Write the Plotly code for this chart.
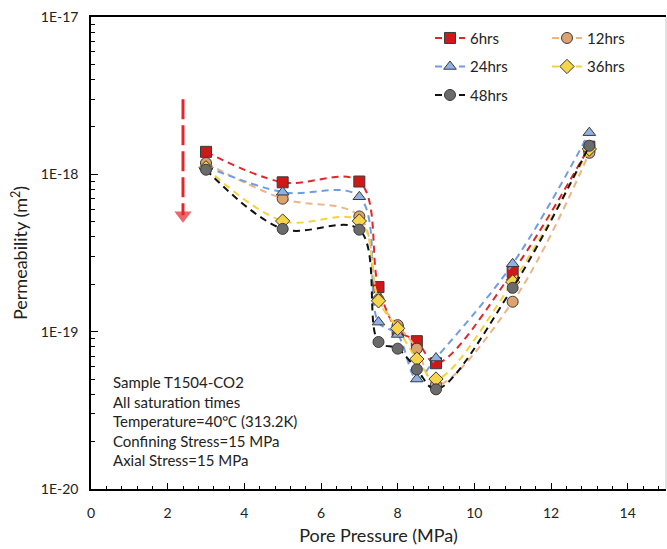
import plotly.graph_objects as go

pressure = [3, 5, 7, 7.5, 8, 8.5, 9, 11, 13]
k_6hrs = [1.39e-18, 8.9e-19, 9.0e-19, 1.92e-19, 1.02e-19, 8.7e-20, 6.3e-20, 2.4e-19, 1.5e-18]
k_12hrs = [1.18e-18, 7.0e-19, 5.4e-19, 1.6e-19, 1.1e-19, 7.8e-20, 4.6e-20, 1.55e-19, 1.37e-18]
k_24hrs = [1.12e-18, 7.7e-19, 7.2e-19, 1.15e-19, 9.6e-20, 5.0e-20, 6.8e-20, 2.7e-19, 1.84e-18]
k_36hrs = [1.1e-18, 5.05e-19, 5.05e-19, 1.57e-19, 1.05e-19, 6.7e-20, 5.0e-20, 2.07e-19, 1.45e-18]
k_48hrs = [1.07e-18, 4.5e-19, 4.45e-19, 8.6e-20, 7.8e-20, 5.76e-20, 4.3e-20, 1.9e-19, 1.52e-18]

y_tickvals = [1e-20, 1e-19, 1e-18, 1e-17]
y_ticktext = ["1E-20", "1E-19", "1E-18", "1E-17"]
x_tickvals = [0, 2, 4, 6, 8, 10, 12, 14]

# decorative arrow: pressure position and permeability start/end
arrow_px = [2.4, 2.4]
arrow_k = [3.0e-18, 5.5e-19]

info_lines = ["Sample T1504-CO2", "All saturation times", "Temperature=40℃ (313.2K)",
              "Confining Stress=15 MPa", "Axial Stress=15 MPa"]

FONT = "Lato"

series = [
    ("6hrs", k_6hrs, "#E3262B", "square", "#D01818", "legend"),
    ("12hrs", k_12hrs, "#EDB488", "circle", "#DDA26E", "legend2"),
    ("24hrs", k_24hrs, "#6F9DE3", "triangle-up", "#8FB0E3", "legend"),
    ("36hrs", k_36hrs, "#F5D33A", "diamond", "#F6D54A", "legend2"),
    ("48hrs", k_48hrs, "#111111", "circle", "#6B6B6B", "legend"),
]

fig = go.Figure()

# red dashed arrow
fig.add_trace(go.Scatter(
    x=arrow_px, y=arrow_k, mode="lines+markers", showlegend=False, hoverinfo="skip",
    line=dict(color="#E3262B", width=3, dash="20px,6px"),
    marker=dict(symbol="triangle-down", size=[0, 15], color="#E3262B", line=dict(width=0)),
))

for name, vals, lcol, sym, mcol, leg in series:
    fig.add_trace(go.Scatter(
        x=pressure, y=vals, name=name, mode="lines+markers",
        line=dict(color=lcol, width=2, dash="7px,5px", shape="spline", smoothing=1),
        marker=dict(symbol=sym, size=11, color=mcol,
                    line=dict(color="#3a3a3a", width=1)),
        legend=leg, legendgroup=name,
    ))

fig.add_annotation(xref="paper", yref="paper", x=(111 - 91) / 575, y=(489 - 371) / 471.5,
                   xanchor="left", yanchor="top", align="left", showarrow=False,
                   text="<br>".join(info_lines),
                   font=dict(family=FONT, size=15, color="#222222"))

# light frame on the right
fig.add_shape(type="line", xref="paper", yref="paper", x0=1, x1=1, y0=0, y1=1,
              line=dict(color="#c8c8c8", width=1))

axis_font = dict(family=FONT, size=14, color="#222222")
fig.update_layout(
    width=667, height=549,
    margin=dict(l=91, r=1, t=17, b=60),
    paper_bgcolor="white", plot_bgcolor="white",
    font=dict(family=FONT, size=14, color="#222222"),
    legend=dict(x=(430 - 91) / 575, y=0.99, xanchor="left", yanchor="top",
                bgcolor="rgba(0,0,0,0)", tracegroupgap=6, font=dict(family=FONT, size=15),
                itemwidth=30),
    legend2=dict(x=(547 - 91) / 575, y=0.99, xanchor="left", yanchor="top",
                 bgcolor="rgba(0,0,0,0)", tracegroupgap=6, font=dict(family=FONT, size=15),
                 itemwidth=30),
    xaxis=dict(range=[0, 15], tickvals=x_tickvals, ticks="inside", ticklen=6,
               tickwidth=1.2, tickcolor="black", showline=True, linecolor="black",
               linewidth=1.5, mirror=True, showgrid=False, zeroline=False,
               tickfont=axis_font, ticklabelstandoff=10,
               minor=dict(dtick=0.4, ticks="inside", ticklen=3, tickcolor="black", tickwidth=1),
               title=dict(text="Pore Pressure (MPa)", font=dict(family=FONT, size=18), standoff=10)),
    yaxis=dict(type="log", range=[-20, -17], tickvals=y_tickvals, ticktext=y_ticktext,
               ticks="inside", ticklen=7, tickwidth=1.2, tickcolor="black",
               showline=True, linecolor="black", linewidth=1.5, showgrid=False,
               zeroline=False, tickfont=axis_font, ticklabelstandoff=8,
               minor=dict(ticks="inside", ticklen=4, tickcolor="black", tickwidth=1,
                          tickvals=[m * 10.0 ** e for e in (-20, -19, -18) for m in range(2, 10)]),
               title=dict(text="Permeability (m<sup>2</sup>)", font=dict(family=FONT, size=18),
                          standoff=8)),
)

fig.write_html("out.html")
